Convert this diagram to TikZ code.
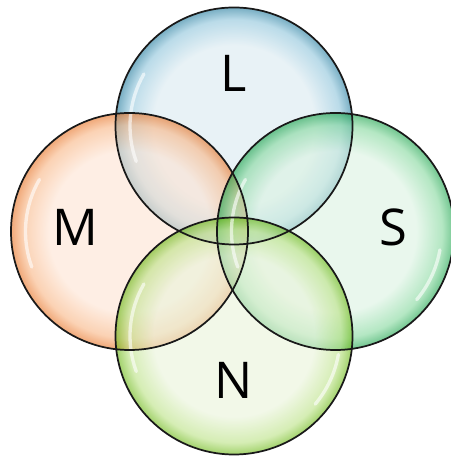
\documentclass[tikz,border=0pt]{standalone}
\usepackage{fontspec}
\setmainfont{Open Sans}
\usetikzlibrary{positioning}

% bubble colours
\definecolor{Lin}{RGB}{217,233,240}\definecolor{Lmid}{RGB}{140,195,218}\definecolor{Ledge}{RGB}{30,120,155}
\definecolor{Min}{RGB}{253,227,210}\definecolor{Mmid}{RGB}{248,180,130}\definecolor{Medge}{RGB}{230,110,30}
\definecolor{Sin}{RGB}{218,242,225}\definecolor{Smid}{RGB}{130,215,155}\definecolor{Sedge}{RGB}{20,160,70}
\definecolor{Nin}{RGB}{233,243,217}\definecolor{Nmid}{RGB}{185,225,130}\definecolor{Nedge}{RGB}{100,180,10}

% the path's rim sits at 25bp
\pgfdeclareradialshading{bubbleL}{\pgfpoint{0bp}{0bp}}{color(0bp)=(Lin); color(17bp)=(Lin); color(22.5bp)=(Lmid); color(25bp)=(Ledge); color(50bp)=(Ledge)}
\pgfdeclareradialshading{bubbleM}{\pgfpoint{0bp}{0bp}}{color(0bp)=(Min); color(17bp)=(Min); color(22.5bp)=(Mmid); color(25bp)=(Medge); color(50bp)=(Medge)}
\pgfdeclareradialshading{bubbleS}{\pgfpoint{0bp}{0bp}}{color(0bp)=(Sin); color(17bp)=(Sin); color(22.5bp)=(Smid); color(25bp)=(Sedge); color(50bp)=(Sedge)}
\pgfdeclareradialshading{bubbleN}{\pgfpoint{0bp}{0bp}}{color(0bp)=(Nin); color(17bp)=(Nin); color(22.5bp)=(Nmid); color(25bp)=(Nedge); color(50bp)=(Nedge)}

\tikzset{bubble/.style={circle, inner sep=0pt, minimum size=177.75pt, fill opacity=0.6},
  rim/.style={draw=black!90, line width=1.3pt},
  gloss/.style={draw=white, line width=2.5pt, line cap=round, opacity=0.6},
  tag/.style={font=\fontsize{38}{40}\selectfont}}

\begin{document}
\begin{tikzpicture}[x=0.75pt, y=0.75pt]
      \useasboundingbox (0,0) rectangle (450,456);
      \node (Lc)[bubble, shading=bubbleL] at (234,330){};
      \node (Mc)[bubble, shading=bubbleM] at (129.5,224.5){};
      \node (Sc)[bubble, shading=bubbleS] at (335.5,224.5){};
      \node (Nc)[bubble, shading=bubbleN] at (234,120){};
      % glossy highlights
      \draw[gloss] ([shift={(150:104)}]Lc.center) arc[start angle=150, end angle=200, radius=104];
      \draw[gloss] ([shift={(150:104)}]Mc.center) arc[start angle=150, end angle=200, radius=104];
      \draw[gloss] ([shift={(150:104)}]Sc.center) arc[start angle=150, end angle=200, radius=104];
      \draw[gloss] ([shift={(150:104)}]Nc.center) arc[start angle=150, end angle=200, radius=104];
      \draw[gloss] ([shift={(-40:106)}]Nc.center) arc[start angle=-40, end angle=-10, radius=106];
      \draw[gloss] ([shift={(-40:106)}]Sc.center) arc[start angle=-40, end angle=-10, radius=106];
      % outlines
      \draw[rim] (Lc.center) circle[radius=118.5];
      \draw[rim] (Mc.center) circle[radius=118.5];
      \draw[rim] (Sc.center) circle[radius=118.5];
      \draw[rim] (Nc.center) circle[radius=118.5];
      \node (Lt)[tag] at (234,383){L};
      \node (Mt)[tag] at (75,229){M};
      \node (St)[tag] at (393,229){S};
      \node (Nt)[tag] at (234,76){N};
    \end{tikzpicture}
\end{document}
